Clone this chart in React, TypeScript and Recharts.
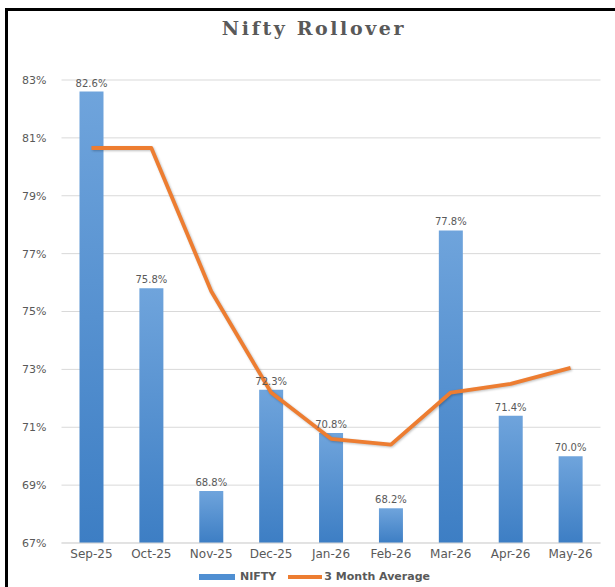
import React from 'react';
import {
  ComposedChart, Bar, Line, XAxis, YAxis, CartesianGrid, Legend, LabelList,
} from 'recharts';

const months = ['Sep-25', 'Oct-25', 'Nov-25', 'Dec-25', 'Jan-26', 'Feb-26', 'Mar-26', 'Apr-26', 'May-26'];
const nifty = [82.6, 75.8, 68.8, 72.3, 70.8, 68.2, 77.8, 71.4, 70.0];
const threeMonthAvg = [80.65, 80.65, 75.7, 72.2, 70.6, 70.4, 72.2, 72.5, 73.05];
const yTicks = [67, 69, 71, 73, 75, 77, 79, 81, 83];

const data = months.map((m, i) => ({ month: m, nifty: nifty[i], avg: threeMonthAvg[i] }));

const txt = '#595959';
const font = '"DejaVu Sans", Verdana, sans-serif';

function LegendContent() {
  return (
    <div style={{ display: 'flex', justifyContent: 'center', alignItems: 'center', fontFamily: font, fontSize: 11, fontWeight: 'bold', color: txt, paddingLeft: 22, paddingTop: 3 }}>
      <span style={{ display: 'inline-block', width: 36, height: 6, background: '#4f8fd2', marginRight: 5 }} />
      <span style={{ marginRight: 12 }}>NIFTY</span>
      <span style={{ display: 'inline-block', width: 34, height: 4, background: '#ED7D31', marginRight: 2 }} />
      <span>3 Month Average</span>
    </div>
  );
}

export default function App() {
  return (
    <div style={{ position: 'fixed', left: 0, top: 0, width: 615, height: 587, background: '#fff', overflow: 'hidden' }}>
      <div style={{ position: 'absolute', left: 5, top: 8, width: 640, height: 600, borderTop: '3px solid #000', borderLeft: '3px solid #000' }} />
      <div style={{ position: 'absolute', left: 0, width: 628, top: 17, textAlign: 'center', fontFamily: '"DejaVu Serif", serif', fontWeight: 'bold', fontSize: 19, letterSpacing: 2.6, color: txt }}>
        Nifty Rollover
      </div>
      <div style={{ position: 'absolute', left: 0, top: 0 }}>
        <ComposedChart width={615} height={587} data={data} margin={{ top: 80, right: 14.5, bottom: 4, left: 6.5 }}>
          <defs>
            <linearGradient id="barGrad" x1="0" y1="0" x2="0" y2="1">
              <stop offset="0%" stopColor="#6fa4dc" />
              <stop offset="100%" stopColor="#3d7ec4" />
            </linearGradient>
          </defs>
          <CartesianGrid vertical={false} stroke="#d9d9d9" strokeWidth={1} />
          <XAxis dataKey="month" height={24} axisLine={{ stroke: '#d9d9d9' }} tickLine={false}
            tick={{ fill: txt, fontSize: 12, fontFamily: font }} tickMargin={0} />
          <YAxis width={55} domain={[67, 83]} ticks={yTicks} allowDataOverflow axisLine={false} tickLine={false}
            tick={{ fill: txt, fontSize: 11, fontFamily: font }} tickMargin={9} tickFormatter={v => `${v}%`} />
          <Legend verticalAlign="bottom" height={16} content={<LegendContent />} />
          <Bar dataKey="nifty" name="NIFTY" fill="url(#barGrad)" barSize={24} isAnimationActive={false}>
            <LabelList dataKey="nifty" position="top" offset={5} fill={txt} fontSize={10} fontFamily={font}
              formatter={(v: number) => `${v.toFixed(1)}%`} />
          </Bar>
          <Line dataKey="avg" name="3 Month Average" type="linear" stroke="#ED7D31" strokeWidth={3.8}
            dot={false} isAnimationActive={false} strokeLinejoin="round"
            style={{ filter: 'drop-shadow(1px 1px 1px rgba(0,0,0,0.25))' }} />
        </ComposedChart>
      </div>
    </div>
  );
}
